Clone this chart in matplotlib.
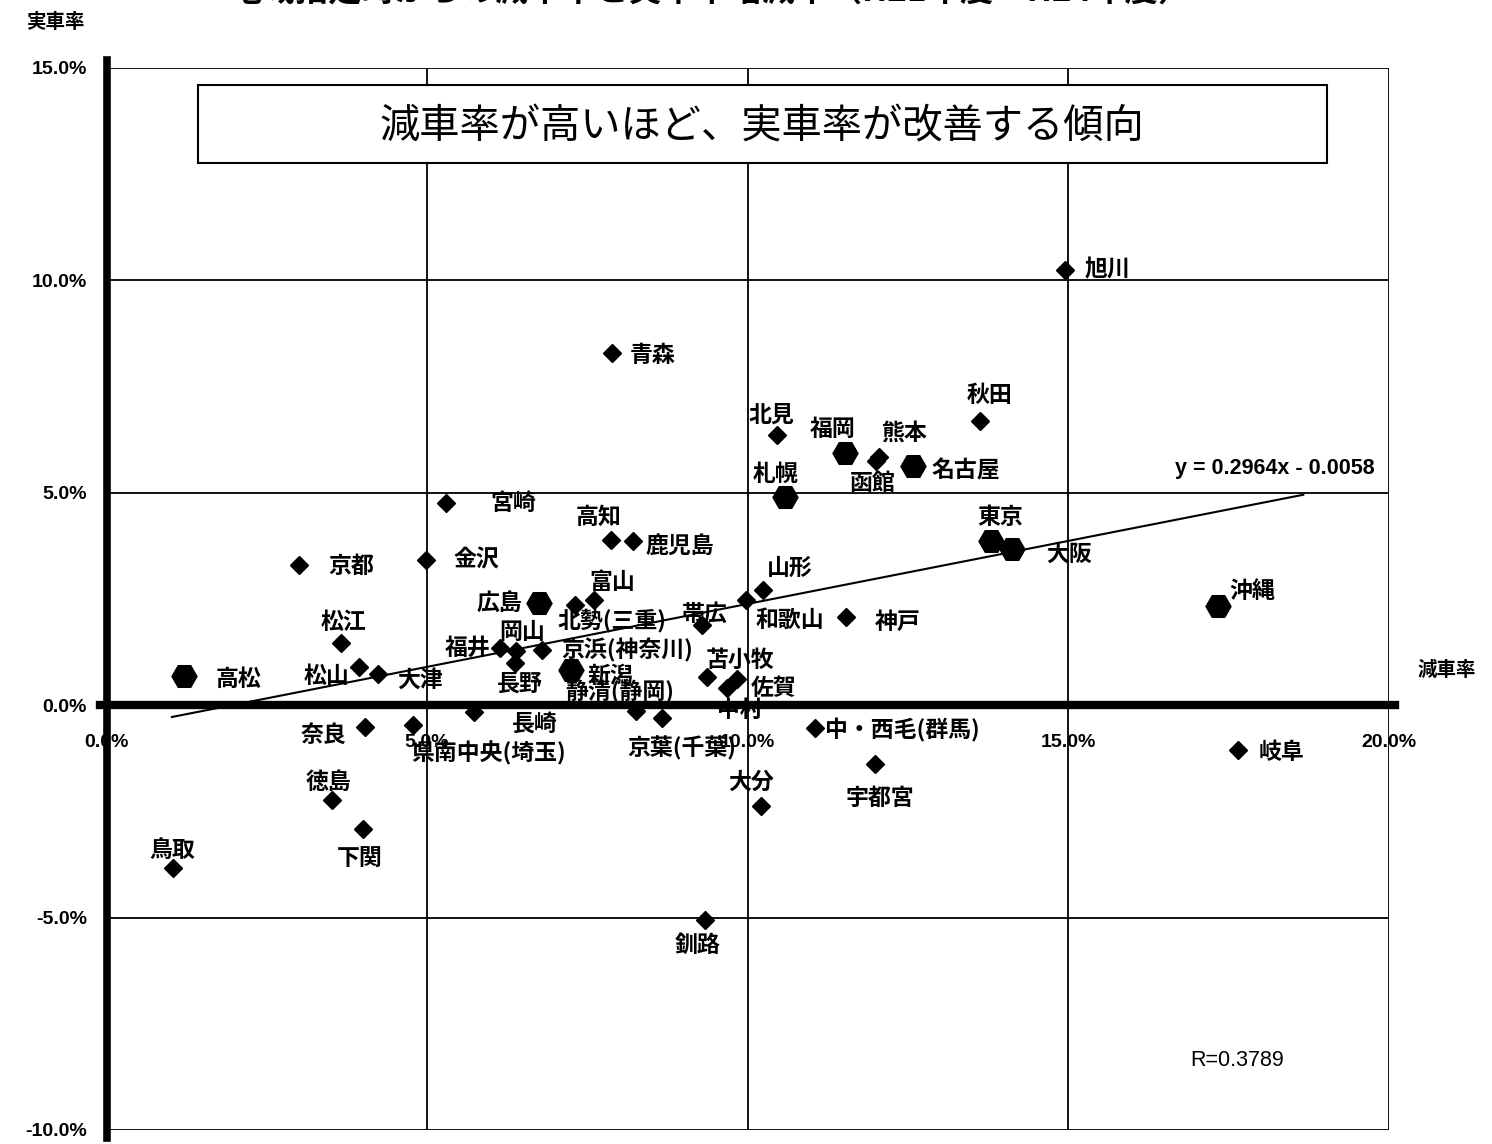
import matplotlib
matplotlib.use("Agg")
import matplotlib.pyplot as plt
from matplotlib.ticker import FuncFormatter
from matplotlib.patches import Rectangle

plt.rcParams['font.family'] = ['Noto Sans CJK JP', 'DejaVu Sans']

# ---- data (減車率 x, 実車率 y, in %) ----
names = ["旭川", "青森", "秋田", "北見", "福岡", "熊本", "函館", "名古屋", "札幌",
         "宮崎", "高知", "鹿児島", "東京", "大阪", "京都", "金沢", "富山", "北勢(三重)",
         "広島", "沖縄", "山形", "和歌山", "神戸", "帯広", "松江", "福井", "岡山",
         "長野", "京浜(神奈川)", "新潟", "松山", "大津", "高松", "苫小牧", "佐賀",
         "中村", "静清(静岡)", "長崎", "県南中央(埼玉)", "奈良", "中・西毛(群馬)",
         "岐阜", "宇都宮", "大分", "徳島", "下関", "鳥取", "京葉(千葉)", "釧路"]
gensha = [14.95, 7.89, 13.63, 10.46, 11.52, 12.05, 12.00, 12.58, 10.58,
          5.30, 7.87, 8.21, 13.80, 14.13, 3.00, 4.98, 7.61, 7.31,
          6.75, 17.34, 10.24, 9.98, 11.54, 9.29, 3.66, 6.14, 6.39,
          6.37, 6.79, 7.25, 3.94, 4.24, 1.21, 9.37, 9.84,
          9.68, 8.26, 5.73, 4.78, 4.04, 11.05,
          17.65, 11.99, 10.21, 3.52, 4.00, 1.04, 8.67, 9.34]
jissha = [10.24, 8.28, 6.68, 6.35, 5.93, 5.84, 5.76, 5.62, 4.89,
          4.75, 3.88, 3.86, 3.86, 3.67, 3.29, 3.41, 2.47, 2.35,
          2.40, 2.33, 2.71, 2.47, 2.07, 1.88, 1.46, 1.34, 1.27,
          0.99, 1.29, 0.82, 0.89, 0.73, 0.68, 0.66, 0.61,
          0.40, -0.14, -0.16, -0.47, -0.52, -0.54,
          -1.06, -1.39, -2.38, -2.24, -2.92, -3.84, -0.31, -5.06]
kind = ["D", "D", "D", "D", "H", "D", "D", "H", "H",
        "D", "D", "D", "H", "H", "D", "D", "D", "D",
        "H", "H", "D", "D", "D", "D", "D", "D", "D",
        "D", "D", "H", "D", "D", "H", "D", "D",
        "D", "D", "D", "D", "D", "D",
        "D", "D", "D", "D", "D", "D", "D", "D"]

slope = 0.2964
intercept = -0.0058
trend_range = [1.02, 18.67]
r_value = 0.3789

x_ticks = [0, 5, 10, 15, 20]
y_ticks = [-10, -5, 0, 5, 10, 15]

# label offsets in pixels (dx right, dy down)
label_off = {
    "旭川": (43, 0), "青森": (40, 2), "秋田": (9, -26), "北見": (-6, -20),
    "福岡": (-12, -24), "熊本": (25, -24), "函館": (-3, 23), "名古屋": (53, 4),
    "札幌": (-9, -23), "宮崎": (67, 0), "高知": (-12, -23), "鹿児島": (47, 5),
    "東京": (9, -24), "大阪": (57, 5), "京都": (52, 1), "金沢": (51, 0),
    "富山": (18, -18), "北勢(三重)": (37, 15), "広島": (-40, 0), "沖縄": (34, -15),
    "山形": (27, -22), "和歌山": (44, 20), "神戸": (51, 5), "帯広": (3, -11),
    "松江": (2, -21), "福井": (-32, 0), "岡山": (6, -19), "長野": (5, 21),
    "京浜(神奈川)": (86, 0), "新潟": (39, 6), "松山": (-33, 9), "大津": (42, 6),
    "高松": (54, 3), "苫小牧": (33, -17), "佐賀": (36, 9), "中村": (13, 22),
    "静清(静岡)": (-16, -19), "長崎": (61, 12), "県南中央(埼玉)": (76, 28),
    "奈良": (-42, 8), "中・西毛(群馬)": (88, 2), "岐阜": (44, 2), "宇都宮": (5, 34),
    "大分": (-10, -24), "徳島": (-4, -18), "下関": (-3, 29), "鳥取": (-1, -18),
    "京葉(千葉)": (20, 30), "釧路": (-8, 25),
}

W, H = 1492, 1144
fig = plt.figure(figsize=(W / 100, H / 100), dpi=100)
left_px, right_px, top_px, bot_px = 106.5, 1388.5, 68, 1130
ax = fig.add_axes([left_px / W, 1 - bot_px / H, (right_px - left_px) / W, (bot_px - top_px) / H])
ax.set_xlim(0, 20)
ax.set_ylim(-10, 15)


def ax_x(px):
    return (px - left_px) / (right_px - left_px)


def ax_y(py):
    return (bot_px - py) / (bot_px - top_px)


# grid / frame
for sp in ["top", "right"]:
    ax.spines[sp].set_visible(False)
ax.spines["left"].set_linewidth(5.5)
ax.spines["left"].set_position(("data", 0))
ax.spines["bottom"].set_position(("data", 0))
ax.spines["bottom"].set_linewidth(6)
ax.spines["left"].set_zorder(4)
ax.spines["bottom"].set_zorder(4)
ax.set_xticks(x_ticks)
ax.set_yticks(y_ticks)
ax.grid(True, color="black", linewidth=1.3, zorder=1)
ax.set_axisbelow(True)
pct = FuncFormatter(lambda v, p: f"{v:.1f}%")
ax.xaxis.set_major_formatter(pct)
ax.yaxis.set_major_formatter(pct)
ax.tick_params(axis="x", length=0, pad=21, labelsize=14)
ax.tick_params(axis="y", length=0, pad=14, labelsize=14)
for lab in ax.get_xticklabels() + ax.get_yticklabels():
    lab.set_family(["Liberation Sans", "DejaVu Sans"])
    lab.set_fontweight("bold")
ax.spines["left"].set_bounds(-10.2, 15.2)
ax.spines["bottom"].set_bounds(-0.1, 20.1)

# trendline
tx = trend_range
ty = [(slope * (v / 100) + intercept) * 100 for v in tx]
ax.plot(tx, ty, color="black", linewidth=1.5, zorder=3)

# points
for n, xv, yv, k in zip(names, gensha, jissha, kind):
    if k == "D":
        ax.plot([xv], [yv], marker="D", ms=9.5, color="black", linestyle="none", zorder=5)
    else:
        ax.plot([xv], [yv], marker="H", ms=18, color="black", linestyle="none", zorder=5)
    dx, dy = label_off[n]
    ax.annotate(n, (xv, yv), xytext=(dx, -dy), textcoords="offset pixels",
                ha="center", va="center", fontsize=16.5, fontweight="bold",
                color="black", zorder=6)

# title box
ax.add_patch(Rectangle((ax_x(198), ax_y(163)), ax_x(1327) - ax_x(198), ax_y(85) - ax_y(163),
                       transform=ax.transAxes, facecolor="white", edgecolor="black",
                       linewidth=1.5, zorder=6))
ax.text(ax_x(762), ax_y(122), "減車率が高いほど、実車率が改善する傾向", transform=ax.transAxes,
        ha="center", va="center_baseline", fontsize=29, color="black", zorder=8)

# equation & R
ax.text(ax_x(1375), ax_y(468), f"y = {slope}x - {abs(intercept):.4f}",
        transform=ax.transAxes, ha="right", va="center", fontsize=15.5,
        fontweight="bold", family=["Liberation Sans", "DejaVu Sans"], zorder=7)
ax.text(ax_x(1237), ax_y(1061), f"R={r_value}", transform=ax.transAxes,
        ha="center", va="center", fontsize=15.5,
        family=["Liberation Sans", "DejaVu Sans"], zorder=7)

# axis titles
fig.text(55 / W, 1 - 22 / H, "実車率", ha="center", va="center", fontsize=14, fontweight="bold")
fig.text(1447 / W, 1 - 670 / H, "減車率", ha="center", va="center", fontsize=14, fontweight="bold")

# chart title (cut off at top in the reference)
fig.text(710 / W, 1 + 8 / H, "地域指定時からの減車率と実車率増減率（H21年度→H24年度）",
         ha="center", va="center", fontsize=24, fontweight="bold")

fig.savefig("out.png", dpi=100)
